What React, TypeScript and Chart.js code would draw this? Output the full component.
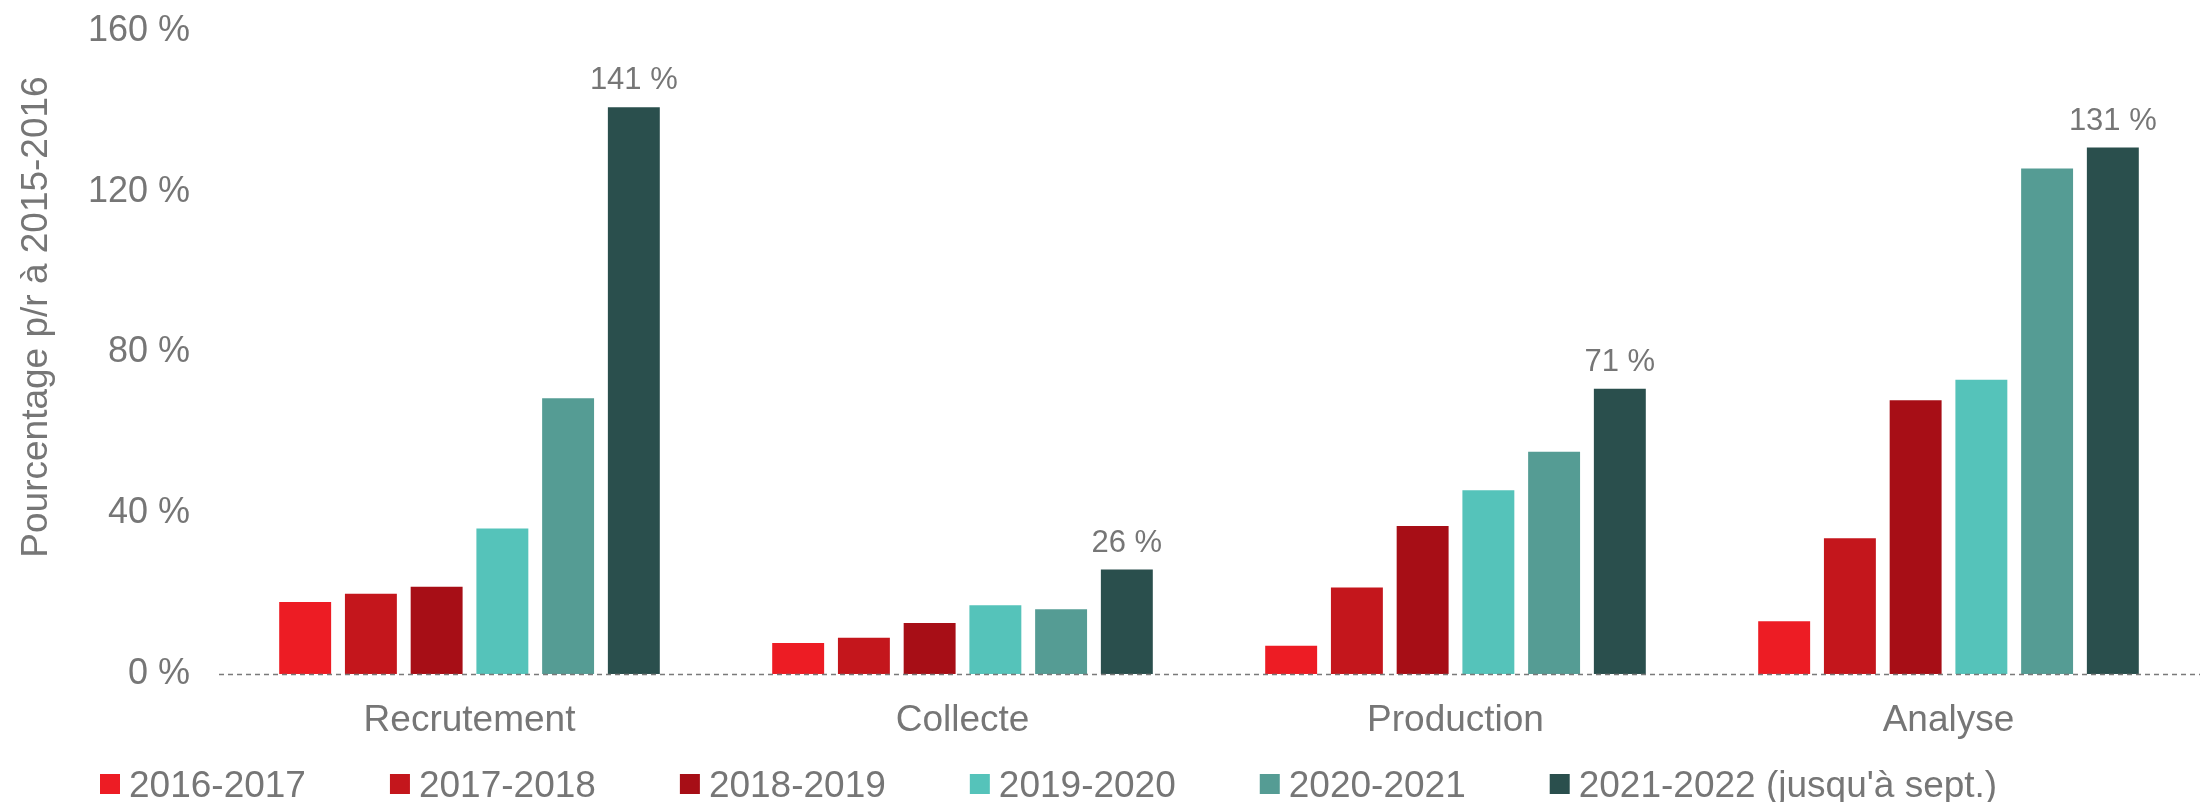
import React, { useEffect, useRef } from "react";
import { Chart, registerables } from "chart.js";

Chart.register(...registerables);

const categories = ["Recrutement", "Collecte", "Production", "Analyse"];
const seriesLabels = ["2016-2017", "2017-2018", "2018-2019", "2019-2020", "2020-2021", "2021-2022 (jusqu'à sept.)"];
const s2016 = [17.9, 7.7, 7.0, 13.1];
const s2017 = [20.0, 9.0, 21.5, 33.8];
const s2018 = [21.7, 12.7, 36.8, 68.1];
const s2019 = [36.2, 17.1, 45.7, 73.2];
const s2020 = [68.6, 16.1, 55.3, 125.8];
const s2021 = [141, 26, 71, 131];
const seriesColors = ["#ED1C24", "#C4161C", "#A70E16", "#55C3BA", "#559C94", "#2A4F4D"];
const yTicks = [0, 40, 80, 120, 160];
const yTitle = "Pourcentage p/r à 2015-2016";

const FONT = "'Liberation Sans', Arial, sans-serif";
const TEXT = "#767676";

const overlayPlugin = {
  id: "overlay",
  afterDatasetsDraw(chart: any) {
    const ctx = chart.ctx;
    const y = chart.scales.y;
    // dashed baseline
    const y0 = Math.round(y.getPixelForValue(0)) + 0.5;
    ctx.save();
    ctx.strokeStyle = "#7a7a7a";
    ctx.lineWidth = 1.5;
    ctx.setLineDash([5, 4]);
    ctx.beginPath();
    ctx.moveTo(219, y0);
    ctx.lineTo(chart.width, y0);
    ctx.stroke();
    ctx.restore();

    // data labels on last dataset
    const last = chart.data.datasets.length - 1;
    const meta = chart.getDatasetMeta(last);
    ctx.save();
    ctx.font = `31px ${FONT}`;
    ctx.fillStyle = TEXT;
    ctx.textAlign = "center";
    ctx.textBaseline = "alphabetic";
    meta.data.forEach((bar: any, i: number) => {
      const v = chart.data.datasets[last].data[i];
      ctx.fillText(`${Math.round(v)} %`, bar.x, bar.y - 18);
    });
    ctx.restore();
  },
  afterDraw(chart: any) {
    const ctx = chart.ctx;
    // y title
    ctx.save();
    ctx.font = `37px ${FONT}`;
    ctx.fillStyle = TEXT;
    ctx.textAlign = "center";
    ctx.textBaseline = "alphabetic";
    ctx.translate(47, 317);
    ctx.rotate(-Math.PI / 2);
    ctx.fillText(yTitle, 0, 0);
    ctx.restore();

    // legend
    ctx.save();
    ctx.font = `37px ${FONT}`;
    ctx.textAlign = "left";
    ctx.textBaseline = "alphabetic";
    let x = 100;
    chart.data.datasets.forEach((ds: any) => {
      ctx.fillStyle = ds.backgroundColor;
      ctx.fillRect(x, 774, 20, 20);
      ctx.fillStyle = TEXT;
      ctx.fillText(ds.label, x + 29, 797);
      x += 29 + ctx.measureText(ds.label).width + 84;
    });
    ctx.restore();
  },
};

export default function App() {
  const ref = useRef<HTMLCanvasElement | null>(null);
  useEffect(() => {
    if (!ref.current) return;
    const values = [s2016, s2017, s2018, s2019, s2020, s2021];
    const chart = new Chart(ref.current, {
      type: "bar",
      data: {
        labels: categories,
        datasets: values.map((d, i) => ({
          label: seriesLabels[i],
          data: d,
          backgroundColor: seriesColors[i],
          borderWidth: 0,
          categoryPercentage: 0.8,
          barPercentage: 0.79,
        })),
      },
      options: {
        responsive: false,
        animation: false,
        devicePixelRatio: 1,
        layout: { padding: { top: 0, right: 5, left: 0, bottom: 0 } },
        plugins: { legend: { display: false }, tooltip: { enabled: false } },
        scales: {
          x: {
            grid: { display: false, drawTicks: false },
            border: { display: false },
            ticks: { color: TEXT, font: { family: FONT, size: 37 }, padding: 25 },
            afterFit: (s: any) => { s.height = 128; },
          },
          y: {
            min: 0,
            max: 160,
            afterBuildTicks: (s: any) => { s.ticks = yTicks.map((v) => ({ value: v })); },
            grid: { display: false, drawTicks: false },
            border: { display: false },
            ticks: {
              color: TEXT,
              font: { family: FONT, size: 36 },
              padding: 33,
              callback: (v: any) => `${v} %`,
            },
            afterFit: (s: any) => {
              s.width = 223;
              s.paddingTop = 31;
              s.paddingBottom = 0;
            },
          },
        },
      },
      plugins: [overlayPlugin],
    });
    return () => chart.destroy();
  }, []);
  return (
    <div style={{ position: "fixed", left: 0, top: 0, width: 2200, height: 802, background: "#fff" }}>
      <canvas ref={ref} width={2200} height={802} style={{ display: "block" }} />
    </div>
  );
}
